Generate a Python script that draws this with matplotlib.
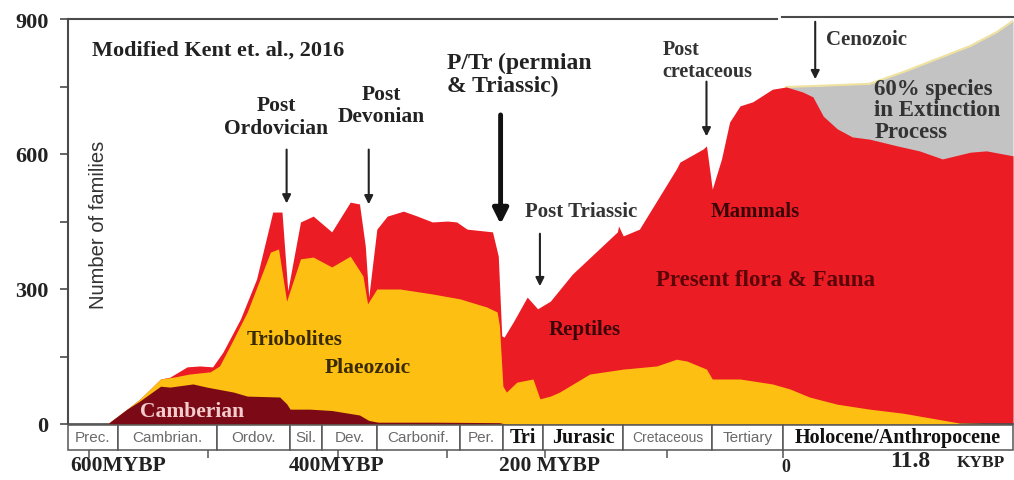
import matplotlib
matplotlib.use("Agg")
import matplotlib.pyplot as plt
from matplotlib.patches import Rectangle

# ---------------- data (x = position in MYBP scale, negative = before present) -------------
maroon_x = [-584, -567, -556, -538, -530, -510, -498, -475, -463, -435, -429, -426, -409, -390, -366, -358, -350, -300, -245, -240]
maroon_y = [0, 33, 51, 84, 82, 89, 82, 71, 62, 60, 45, 33, 33, 30, 20, 8, 4, 4, 3, 0]

yellow_x = [-584, -567, -556, -538, -527, -513, -495, -487, -478, -463, -452, -443, -436, -429,
            -417, -406, -390, -374, -363, -359, -351, -331, -303, -279, -256, -247, -245, -242,
            -239, -230, -216, -210, -201, -193, -167, -138, -109, -92, -83, -66, -61, -37, -9,
            6, 23, 47, 75, 104, 133, 153, 199]
yellow_y = [0, 33, 55, 100, 104, 111, 116, 129, 173, 249, 322, 382, 389, 273,
            367, 371, 349, 373, 329, 267, 300, 300, 289, 278, 260, 249, 218, 84,
            71, 93, 100, 56, 62, 71, 111, 122, 129, 144, 140, 122, 100, 100, 89,
            78, 60, 44, 33, 24, 11, 2, 0]

red_x = [-584, -567, -556, -538, -530, -515, -504, -493, -484, -469, -455, -441, -433, -428,
         -417, -406, -390, -374, -366, -361, -358, -351, -342, -328, -316, -303, -290, -282,
         -273, -251, -246, -243, -241, -233, -221, -212, -201, -182, -143, -142, -138, -124,
         -92, -89, -69, -66, -61, -53, -46, -37, -26, -9, 3, 17, 26, 35, 47, 60, 75, 99,
         118, 138, 162, 176, 199]
red_y = [0, 33, 55, 100, 104, 127, 129, 127, 160, 233, 322, 471, 471, 296,
         449, 462, 427, 493, 489, 396, 282, 433, 462, 473, 462, 449, 451, 449,
         433, 427, 373, 196, 193, 227, 282, 256, 273, 333, 427, 440, 418, 433,
         567, 582, 611, 618, 522, 589, 671, 707, 716, 744, 749, 738, 727, 684, 656, 638, 633, 618,
         607, 589, 604, 607, 596]

grey_x = [3, 26, 75, 104, 133, 162, 185, 199]
grey_y = [749, 751, 756, 782, 811, 840, 871, 896]

period_names = ["Prec.", "Cambrian.", "Ordov.", "Sil.", "Dev.", "Carbonif.", "Per.",
                "Tri", "Jurasic", "Cretaceous", "Tertiary", "Holocene/Anthropocene"]
period_edges = [-618, -575, -489, -426, -398, -351, -279, -242, -207, -138, -61, 0, 199]
period_bold = [False, False, False, False, False, False, False, True, True, False, False, True]

y_ticks = [0, 150, 300, 450, 600, 750, 900]
y_ticklabels = ["0", "", "300", "", "600", "", "900"]
time_ticks = [-600, -497, -385, -290, -206, -100, 0]

# ---------------- colours ----------------
C_MAROON = "#7c0a16"
C_YELLOW = "#fdbf12"
C_RED = "#ec1c24"
C_GREY = "#c3c3c3"
C_AXIS = "#4a4a4a"
SERIF = "Liberation Serif"
SANS = "Liberation Sans"

fig = plt.figure(figsize=(10.14, 4.81), dpi=100)
ax = fig.add_axes([68 / 1014, 56 / 481, 945 / 1014, 405 / 481])

ax.fill_between(grey_x, 0, grey_y, color=C_GREY, lw=0, zorder=1)
ax.plot(grey_x, grey_y, color="#efe2a0", lw=1.5, zorder=1.5)
ax.fill_between(red_x, 0, red_y, color=C_RED, lw=0, zorder=2)
ax.fill_between(yellow_x, 0, yellow_y, color=C_YELLOW, lw=0, zorder=3)
ax.fill_between(maroon_x, 0, maroon_y, color=C_MAROON, lw=0, zorder=4)

ax.set_xlim(-618, 199)
ax.set_ylim(0, 900)

# spines
for s in ["top", "right"]:
    ax.spines[s].set_visible(False)
ax.spines["left"].set_color(C_AXIS)
ax.spines["left"].set_linewidth(1.5)
ax.spines["bottom"].set_color(C_AXIS)
ax.spines["bottom"].set_linewidth(1.2)
ax.plot([-618, -5], [900, 900], color=C_AXIS, lw=1.5, clip_on=False, zorder=6)
ax.plot([-1, 199], [904, 904], color=C_AXIS, lw=1.5, clip_on=False, zorder=6)

ax.set_yticks(y_ticks)
ax.set_yticklabels(y_ticklabels, fontfamily=SERIF, fontweight="bold", fontsize=16, color="#222222")
ax.tick_params(axis="y", direction="out", length=6, width=1.2, color=C_AXIS, pad=8)
ax.set_xticks([])

ax.text(-592, 444, "Number of families", rotation=90, ha="center", va="center",
        fontfamily=SANS, fontsize=14.5, color="#333333", zorder=7)

# period boxes
xt = ax.get_xaxis_transform()
for name, x0, x1, b in zip(period_names, period_edges[:-1], period_edges[1:], period_bold):
    ax.add_patch(Rectangle((x0, -0.064), x1 - x0, 0.0615, transform=xt, clip_on=False,
                           facecolor="white", edgecolor="#555555", lw=1.1, zorder=6))
    if b:
        ax.text((x0 + x1) / 2, -0.033, name, transform=xt, ha="center", va="center",
                fontfamily=SERIF, fontweight="bold", fontsize=14.5, color="#111111", zorder=7)
    else:
        ax.text((x0 + x1) / 2, -0.033, name, transform=xt, ha="center", va="center",
                fontfamily=SANS, fontsize=11 if name != "Cretaceous" else 10, color="#6a6a6a", zorder=7)

secax = ax.secondary_xaxis(-0.064)
secax.spines["bottom"].set_visible(False)
secax.set_xticks(time_ticks)
secax.set_xticklabels([""] * len(time_ticks))
secax.tick_params(axis="x", direction="out", length=6, width=1.1, color="#555555")

lab = dict(transform=xt, fontfamily=SERIF, fontweight="bold", color="#222222")
ax.text(-575, -0.101, "600MYBP", ha="center", va="center", fontsize=15.5, **lab)
ax.text(-386, -0.101, "400MYBP", ha="center", va="center", fontsize=15.5, **lab)
ax.text(-202, -0.101, "200 MYBP", ha="center", va="center", fontsize=15.5, **lab)
ax.text(3, -0.106, "0", ha="center", va="center", fontsize=13, **lab)
ax.text(93, -0.103, "11.8", ha="left", va="baseline", fontsize=17, **lab)
ax.text(150, -0.103, "KYBP", ha="left", va="baseline", fontsize=12.5, **lab)

# annotations
T = dict(fontfamily=SERIF, fontweight="bold", zorder=8)
ax.text(-488, 833, "Modified Kent et. al., 2016", ha="center", va="center", fontsize=16, color="#222222", **T)
ax.text(-438, 684, "Post\nOrdovician", ha="center", va="center", fontsize=15.5, color="#222222", linespacing=1.2, **T)
ax.text(-347, 709, "Post\nDevonian", ha="center", va="center", fontsize=15.5, color="#222222", linespacing=1.15, **T)
ax.text(-290, 778, "P/Tr (permian\n& Triassic)", ha="left", va="center", fontsize=17, color="#222222", linespacing=1.1, **T)
ax.text(-174, 473, "Post Triassic", ha="center", va="center", fontsize=15, color="#333333", **T)
ax.text(-104, 809, "Post\ncretaceous", ha="left", va="center", fontsize=14.5, color="#333333", linespacing=1.1, **T)
ax.text(37, 856, "Cenozoic", ha="left", va="center", fontsize=15, color="#333333", **T)
ax.text(79, 698, "60% species\nin Extinction\nProcess", ha="left", va="center", fontsize=16.5, color="#333333", linespacing=1.05, **T)
ax.text(-24, 473, "Mammals", ha="center", va="center", fontsize=15, color="#3a0508", **T)
ax.text(-15, 322, "Present flora & Fauna", ha="center", va="center", fontsize=16.5, color="#5a0508", **T)
ax.text(-171, 211, "Reptiles", ha="center", va="center", fontsize=15, color="#3a0508", **T)
ax.text(-422, 189, "Triobolites", ha="center", va="center", fontsize=15, color="#3a2a00", **T)
ax.text(-359, 127, "Plaeozoic", ha="center", va="center", fontsize=15.5, color="#3a2a00", **T)
ax.text(-511, 29, "Camberian", ha="center", va="center", fontsize=15.5, color="#f2cccc", **T)

arr = dict(arrowstyle="-|>,head_length=0.5,head_width=0.25", color="#222222", lw=1.5)
ax.annotate("", xy=(-429, 484), xytext=(-429, 616), arrowprops=arr, zorder=8)
ax.annotate("", xy=(-358, 482), xytext=(-358, 616), arrowprops=arr, zorder=8)
ax.annotate("", xy=(-210, 300), xytext=(-210, 429), arrowprops=arr, zorder=8)
ax.annotate("", xy=(-66, 633), xytext=(-66, 767), arrowprops=arr, zorder=8)
ax.annotate("", xy=(28, 760), xytext=(28, 900), arrowprops=arr, zorder=8)
ax.annotate("", xy=(-244, 438), xytext=(-244, 693),
            arrowprops=dict(arrowstyle="-|>,head_length=0.9,head_width=0.45", color="#111111", lw=3.5), zorder=8)

fig.savefig("out.png", dpi=100)
